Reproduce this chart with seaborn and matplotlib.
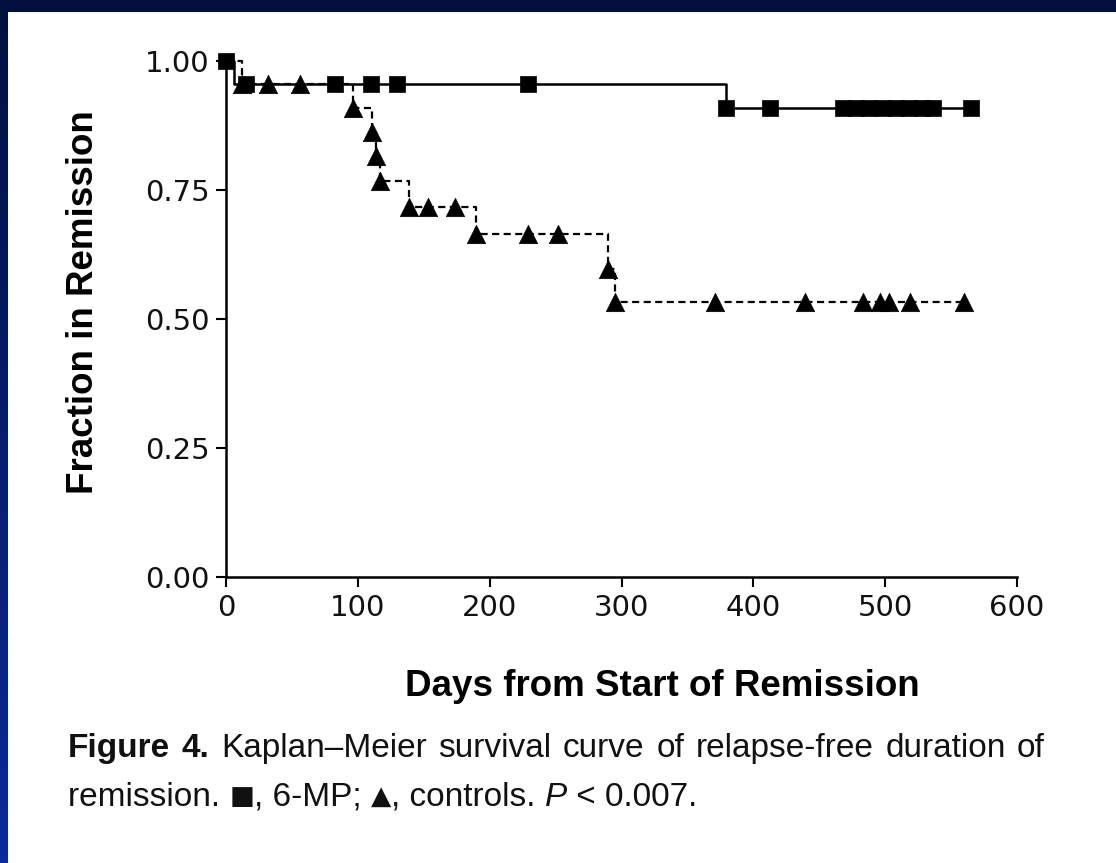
import numpy as np
import pandas as pd
import matplotlib
matplotlib.use("Agg")
import matplotlib.pyplot as plt
import seaborn as sns
from matplotlib.patches import Rectangle
from matplotlib.colors import LinearSegmentedColormap

# ---------------- data ----------------
mp_times = [0, 6, 379, 565]
mp_surv = [1.0, 0.955, 0.909, 0.909]
mp_marks = [0, 15, 83, 110, 130, 229, 379, 413, 468, 478, 488, 498, 508, 518, 528, 536, 565]

ctl_times = [0, 12, 96, 111, 114, 117, 139, 190, 290, 295, 560]
ctl_surv = [1.0, 0.955, 0.909, 0.862, 0.815, 0.768, 0.717, 0.664, 0.597, 0.532, 0.532]
ctl_marks = [12, 32, 56, 96, 111, 114, 117, 139, 153, 174, 190, 229, 252, 290, 295,
             371, 439, 483, 496, 503, 519, 560]

x_ticks = [0, 100, 200, 300, 400, 500, 600]
y_ticks = [0.0, 0.25, 0.5, 0.75, 1.0]
y_tick_labels = ["0.00", "0.25", "0.50", "0.75", "1.00"]

x_label = "Days from Start of Remission"
y_label = "Fraction in Remission"
caption_line1 = ["Figure", "4.", "Kaplan\u2013Meier", "survival", "curve", "of",
                 "relapse-free", "duration", "of"]
caption_line2 = [("remission. ", "normal"), ("\u25A0", "symbol"), (", 6-MP; ", "normal"),
                 ("\u25B2", "symbol"), (", controls. ", "normal"), ("P", "italic"),
                 (" < 0.007.", "normal")]


def step_at(times, surv, t):
    idx = np.searchsorted(np.asarray(times), np.asarray(t), side="right") - 1
    return np.asarray(surv)[idx]


sns.set_theme(style="ticks")
plt.rcParams["font.family"] = ["Liberation Sans", "DejaVu Sans"]

W, H = 1116, 863
fig = plt.figure(figsize=(W / 100, H / 100), dpi=100)
fig.patch.set_facecolor("white")

# frame decorations (blue slide border)
grad = np.linspace(0, 1, 256).reshape(-1, 1)
cmap = LinearSegmentedColormap.from_list("edge", ["#00103f", "#0a2b98"])
ax_edge = fig.add_axes([0, 0, 8 / W, 1])
ax_edge.imshow(grad, aspect="auto", cmap=cmap)
ax_edge.set_axis_off()
fig.add_artist(Rectangle((0, 1 - 12 / H), 1, 12 / H, transform=fig.transFigure,
                         facecolor="#000f3c", edgecolor="none", zorder=5))

x0, x600 = 226, 1017
y0, y1 = 577, 61
ax = fig.add_axes([x0 / W, 1 - y0 / H, (x600 - x0) / W, (y0 - y1) / H])

mp_df = pd.DataFrame({"t": mp_times, "s": mp_surv})
ctl_df = pd.DataFrame({"t": ctl_times, "s": ctl_surv})

sns.lineplot(data=ctl_df, x="t", y="s", estimator=None, sort=False, drawstyle="steps-post",
             color="black", linewidth=1.6, ax=ax)
ax.lines[-1].set_dashes([3.2, 2.0])
ax.lines[-1].set_clip_on(False)
sns.lineplot(data=mp_df, x="t", y="s", estimator=None, sort=False, drawstyle="steps-post",
             color="black", linewidth=1.8, ax=ax)
ax.lines[-1].set_clip_on(False)

ctl_m = pd.DataFrame({"t": ctl_marks, "s": step_at(ctl_times, ctl_surv, ctl_marks)})
mp_m = pd.DataFrame({"t": mp_marks, "s": step_at(mp_times, mp_surv, mp_marks)})
sns.scatterplot(data=ctl_m, x="t", y="s", marker="^", s=175, color="black",
                edgecolor="black", linewidth=0.5, ax=ax, clip_on=False, zorder=4)
sns.scatterplot(data=mp_m, x="t", y="s", marker="s", s=140, color="black",
                edgecolor="black", linewidth=0.5, ax=ax, clip_on=False, zorder=5)

ax.set_xlim(0, 600)
ax.set_ylim(0, 1)
ax.set_xticks(x_ticks)
ax.set_xticklabels([str(v) for v in x_ticks])
ax.set_yticks(y_ticks)
ax.set_yticklabels(y_tick_labels)
ax.set_xlabel("")
ax.set_ylabel("")
ax.set_facecolor("white")
for side in ["top", "right"]:
    ax.spines[side].set_visible(False)
for side in ["left", "bottom"]:
    ax.spines[side].set_linewidth(1.8)
    ax.spines[side].set_color("black")
ax.tick_params(axis="both", direction="out", length=7, width=1.5, colors="black",
               labelsize=21, pad=5)
for lab in ax.get_xticklabels() + ax.get_yticklabels():
    lab.set_family(["DejaVu Sans"])
    lab.set_color("#111111")

fig.text(84 / W, 1 - 302 / H, y_label, rotation=90, ha="center", va="center",
         fontsize=26.5, fontweight="bold", color="black")
fig.text(662 / W, 1 - 686 / H, x_label, ha="center", va="center",
         fontsize=26.5, fontweight="bold", color="black")

# caption, line 1 justified
renderer = fig.canvas.get_renderer()
cap_size = 24
cx0, cx1 = 68, 1045
cy1, cy2 = 748, 797
objs = []
for i, w in enumerate(caption_line1):
    t = fig.text(0, 1 - cy1 / H, w, ha="left", va="center", fontsize=cap_size,
                 fontweight="bold" if i < 2 else "normal", color="#111111")
    objs.append(t)
widths = [o.get_window_extent(renderer).width for o in objs]
gap = ((cx1 - cx0) - sum(widths)) / (len(objs) - 1)
xpos = cx0
for o, wd in zip(objs, widths):
    o.set_x(xpos / W)
    xpos += wd + gap

xpos = cx0
for txt, style in caption_line2:
    if style == "symbol":
        t = fig.text(xpos / W, 1 - cy2 / H, txt, ha="left", va="center", fontsize=19,
                     family=["DejaVu Sans"], color="#111111")
    else:
        t = fig.text(xpos / W, 1 - cy2 / H, txt, ha="left", va="center", fontsize=cap_size,
                     style=style, color="#111111")
    xpos += t.get_window_extent(renderer).width

fig.savefig("out.png", dpi=100)
